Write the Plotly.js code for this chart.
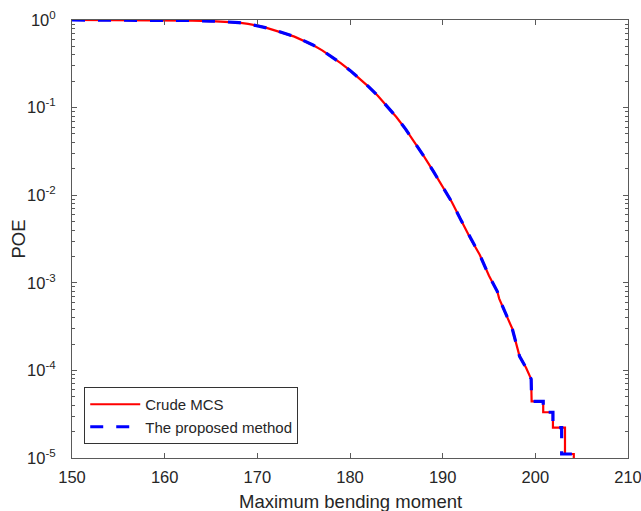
<!DOCTYPE html>
<html>
<head>
<meta charset="utf-8">
<script src="https://cdn.plot.ly/plotly-3.0.1.min.js"></script>
<style>html,body{margin:0;padding:0;background:#fff;}#chart{width:641px;height:511px;}</style>
</head>
<body>
<div id="chart"></div>
<script>
// Crude MCS (red solid)
var mcsX = [150, 155, 160, 163, 165, 166.7, 168, 169, 170, 171, 172, 173, 174, 175, 176, 177, 178, 179, 180, 181, 182, 183, 184, 185, 186, 187, 188, 189, 190, 191, 192, 193, 194, 195, 195.9, 196.1, 197, 197.5, 198, 198.3, 199, 199.55, 199.6, 200.85, 200.85, 201.9, 201.9, 203.2, 203.2, 204.15, 204.15];
var mcsLogY = [0, -0.0005, -0.002, -0.006, -0.012, -0.02, -0.03, -0.045, -0.063, -0.09, -0.12, -0.155, -0.19, -0.235, -0.285, -0.347, -0.415, -0.492, -0.575, -0.665, -0.76, -0.865, -0.98, -1.107, -1.245, -1.398, -1.56, -1.728, -1.9, -2.08, -2.29, -2.495, -2.68, -2.92, -3.1, -3.18, -3.40, -3.52, -3.72, -3.84, -3.97, -4.1, -4.3526, -4.3526, -4.4776, -4.4776, -4.6536, -4.6536, -4.9546, -4.9546, -5.3];
// The proposed method (blue dashed)
var propX = [150, 155, 160, 163, 165, 166.7, 168, 169, 170, 171, 172, 173, 174, 175, 176, 177, 178, 179, 180, 181, 182, 183, 184, 185, 186, 187, 188, 189, 190, 191, 192, 193, 194, 195, 195.9, 196.1, 197, 197.5, 198, 198.3, 199, 199.55, 199.6, 200.85, 200.85, 201.9, 201.9, 202.84, 202.84, 204.15, 204.15];
var propLogY = [0, -0.0005, -0.002, -0.006, -0.012, -0.02, -0.03, -0.045, -0.063, -0.09, -0.12, -0.155, -0.19, -0.235, -0.285, -0.347, -0.415, -0.492, -0.575, -0.665, -0.76, -0.865, -0.98, -1.107, -1.245, -1.398, -1.56, -1.728, -1.9, -2.08, -2.29, -2.495, -2.68, -2.92, -3.1, -3.18, -3.40, -3.52, -3.72, -3.84, -3.97, -4.1, -4.3526, -4.3526, -4.4776, -4.4776, -4.6536, -4.6536, -4.9546, -4.9546, -5.3];

var xTicks = [150, 160, 170, 180, 190, 200, 210];
var yTickVals = [1, 0.1, 0.01, 0.001, 0.0001, 0.00001];
var yTickText = ['10<sup>0</sup>', '10<sup>-1</sup>', '10<sup>-2</sup>', '10<sup>-3</sup>', '10<sup>-4</sup>', '10<sup>-5</sup>'];
var minorMantissas = [2, 3, 4, 5, 6, 7, 8, 9];
var seriesNames = ['Crude MCS', 'The proposed method'];
var xTitle = 'Maximum bending moment';
var yTitle = 'POE';

function pow10(a){ return a.map(function(v){ return Math.pow(10, v); }); }
var minorVals = [];
yTickVals.slice(1).forEach(function(d){
  minorMantissas.forEach(function(m){ minorVals.push(m * d); });
});

var traces = [
  {x: mcsX, y: pow10(mcsLogY), mode: 'lines', name: seriesNames[0],
   line: {color: '#ff0000', width: 2.2}},
  {x: propX, y: pow10(propLogY), mode: 'lines', name: seriesNames[1],
   line: {color: '#0000ff', width: 3.2, dash: '13px,13px'}}
];

var axisCol = '#5a5a5a';
var layout = {
  width: 641, height: 511,
  margin: {l: 72, r: 13, t: 20, b: 53},
  paper_bgcolor: '#ffffff', plot_bgcolor: '#ffffff',
  font: {family: 'Liberation Sans, Arial, sans-serif', size: 16.5, color: '#262626'},
  showlegend: true,
  legend: {x: 0.022, y: 0.032, xanchor: 'left', yanchor: 'bottom',
    bgcolor: '#ffffff', bordercolor: '#333333', borderwidth: 1,
    font: {size: 15, color: '#262626'}, tracegroupgap: 0, itemwidth: 50},
  xaxis: {
    range: [150, 210], tickmode: 'array', tickvals: xTicks, ticktext: xTicks.map(String),
    ticks: 'inside', ticklen: 5, tickcolor: axisCol, tickwidth: 1,
    tickfont: {size: 16.5, color: '#262626'}, ticklabelstandoff: 4, ticklabeloverflow: 'allow',
    showline: true, linecolor: axisCol, linewidth: 1, mirror: 'ticks',
    showgrid: false, zeroline: false
  },
  yaxis: {
    type: 'log', range: [-5, 0], tickmode: 'array', tickvals: yTickVals, ticktext: yTickText,
    ticks: 'inside', ticklen: 5, tickcolor: axisCol, tickwidth: 1,
    tickfont: {size: 16.5, color: '#262626'}, ticklabelstandoff: 12,
    minor: {tickmode: 'array', tickvals: minorVals, ticks: 'inside', ticklen: 3, tickcolor: axisCol, showgrid: false},
    showline: true, linecolor: axisCol, linewidth: 1, mirror: 'ticks',
    showgrid: false, zeroline: false
  },
  annotations: [{
    text: yTitle, xref: 'paper', yref: 'paper', x: -0.098, y: 0.5,
    xanchor: 'center', yanchor: 'middle', textangle: -90, showarrow: false,
    font: {size: 18.5, color: '#262626'}
  }, {
    text: xTitle, xref: 'paper', yref: 'paper', x: 0.5, y: -0.099,
    xanchor: 'center', yanchor: 'middle', showarrow: false,
    font: {size: 18.5, color: '#262626'}
  }]
};

Plotly.newPlot('chart', traces, layout, {displayModeBar: false, staticPlot: true});
</script>
</body>
</html>
